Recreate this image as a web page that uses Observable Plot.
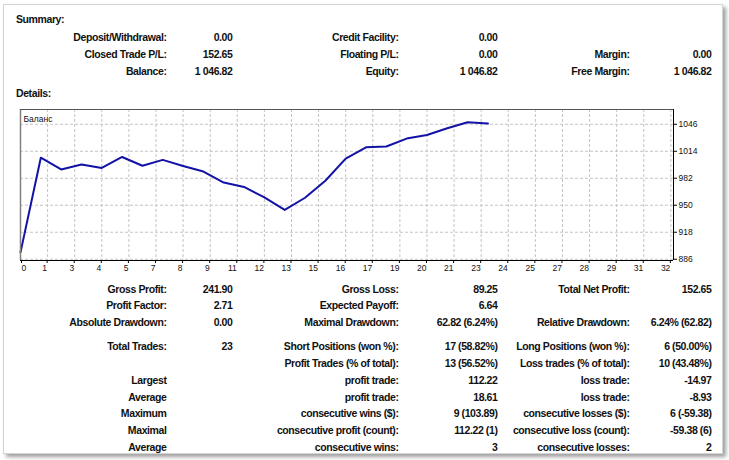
<!DOCTYPE html>
<html>
<head>
<meta charset="utf-8">
<script src="https://cdn.jsdelivr.net/npm/d3@7"></script>
<script src="https://cdn.jsdelivr.net/npm/@observablehq/plot@0.6"></script>
<style>
  html, body { margin: 0; padding: 0; background: #ffffff; }
  body { width: 729px; height: 460px; position: relative; overflow: hidden; }
  #panel { position: absolute; left: 3px; top: 4px; width: 718px; height: 448px;
           background: #fff; border: 1px solid #d4d4d4;
           box-shadow: 3px 3px 4px rgba(0,0,0,0.38); }
  .t { position: absolute; white-space: nowrap; font-family: "Liberation Sans", Arial, sans-serif;
       font-weight: bold; font-size: 10.5px; letter-spacing: -0.4px; line-height: 12px; color: #111; }
  #chart { position: absolute; left: 0; top: 100px; }
</style>
</head>
<body>
<div id="panel"></div>
<div id="texts"></div>
<div id="chart"></div>
<script>
// ---------- data ----------
const balance = [894.17, 1006.39, 992.42, 998.22, 994.22, 1007.22, 996.79, 1003.78, 996.60, 989.90,
                 976.90, 971.70, 959.37, 944.40, 958.90, 979.00, 1005.30, 1018.70, 1019.60, 1029.00,
                 1033.30, 1041.20, 1048.29, 1046.82];
const xTickLabels = [0, 1, 3, 4, 5, 7, 8, 9, 11, 12, 13, 15, 16, 17, 19, 20, 21, 23, 24, 25, 27, 28, 29, 31, 32];
const yTickLabels = [886, 918, 950, 982, 1014, 1046];
const seriesName = "Баланс";

const summaryRows = [
  ["Deposit/Withdrawal:", "0.00", "Credit Facility:", "0.00", "", ""],
  ["Closed Trade P/L:", "152.65", "Floating P/L:", "0.00", "Margin:", "0.00"],
  ["Balance:", "1 046.82", "Equity:", "1 046.82", "Free Margin:", "1 046.82"]
];
const detailsRows = [
  ["Gross Profit:", "241.90", "Gross Loss:", "89.25", "Total Net Profit:", "152.65"],
  ["Profit Factor:", "2.71", "Expected Payoff:", "6.64", "", ""],
  ["Absolute Drawdown:", "0.00", "Maximal Drawdown:", "62.82 (6.24%)", "Relative Drawdown:", "6.24% (62.82)"],
  ["Total Trades:", "23", "Short Positions (won %):", "17 (58.82%)", "Long Positions (won %):", "6 (50.00%)"],
  ["", "", "Profit Trades (% of total):", "13 (56.52%)", "Loss trades (% of total):", "10 (43.48%)"],
  ["Largest", "", "profit trade:", "112.22", "loss trade:", "-14.97"],
  ["Average", "", "profit trade:", "18.61", "loss trade:", "-8.93"],
  ["Maximum", "", "consecutive wins ($):", "9 (103.89)", "consecutive losses ($):", "6 (-59.38)"],
  ["Maximal", "", "consecutive profit (count):", "112.22 (1)", "consecutive loss (count):", "-59.38 (6)"],
  ["Average", "", "consecutive wins:", "3", "consecutive losses:", "2"]
];

// ---------- layout ----------
const colRight = [166, 232, 398, 497, 629, 711];
const summaryY = [37, 53.5, 70.5];
const detailsY = [289, 305, 322, 346, 363, 380, 397, 413, 430, 447];
const W = 729;

const texts = document.getElementById("texts");
function addText(str, opts) {
  if (!str) return;
  const d = document.createElement("div");
  d.className = "t";
  d.textContent = str;
  d.style.top = (opts.y - 6) + "px";
  if (opts.left != null) d.style.left = opts.left + "px";
  else d.style.right = (W - opts.right - 0.5) + "px";
  texts.appendChild(d);
}
addText("Summary:", {left: 16, y: 19});
addText("Details:", {left: 16, y: 93});
summaryRows.forEach((row, r) => row.forEach((s, c) => addText(s, {right: colRight[c], y: summaryY[r]})));
detailsRows.forEach((row, r) => row.forEach((s, c) => addText(s, {right: colRight[c], y: detailsY[r]})));

// ---------- chart ----------
const xMax = 32;
const xTickPos = xTickLabels.map((_, i) => i * xMax / (xTickLabels.length - 1));
const labelAt = new Map(xTickPos.map((p, i) => [p, String(xTickLabels[i])]));
const xDomain = [0, 32.13];
const yDomain = [884.5, 1063.5];
const grid = {stroke: "#c4c4c4", strokeOpacity: 1, strokeDasharray: "3,2"};

const chart = Plot.plot({
  width: 729,
  height: 180,
  marginLeft: 20,
  marginRight: 56,
  marginTop: 9,
  marginBottom: 20,
  x: {domain: xDomain},
  y: {domain: yDomain},
  style: {fontFamily: "Liberation Sans, Arial, sans-serif", fontSize: "8.5px", background: "transparent", color: "#111"},
  marks: [
    Plot.gridY(yTickLabels, grid),
    Plot.gridX(xTickPos.slice(1), grid),
    Plot.line(balance, {x: (d, i) => i, y: d => d, stroke: "#1212a6", strokeWidth: 2}),
    Plot.ruleX([xDomain[0]], {stroke: "#808080", strokeWidth: 1.5}),
    Plot.ruleY([yDomain[1]], {stroke: "#555"}),
    Plot.ruleX([xDomain[1]], {stroke: "#000"}),
    Plot.ruleY([yDomain[0]], {stroke: "#000"}),
    Plot.axisX(xTickPos.slice(0, 1), {tickSize: 3, tickPadding: 1, tickFormat: d => labelAt.get(d), textAnchor: "start", dx: 1, stroke: "#000"}),
    Plot.axisX(xTickPos.slice(1), {tickSize: 3, tickPadding: 1, tickFormat: d => labelAt.get(d), textAnchor: "end", dx: -0.5, stroke: "#000"}),
    Plot.axisY(yTickLabels, {anchor: "right", tickSize: 3, tickPadding: 2, tickFormat: d => String(d), stroke: "#000"}),
    Plot.text([seriesName], {frameAnchor: "top-left", dx: 3, dy: 6, text: d => d, fontSize: 8.5})
  ]
});
document.getElementById("chart").appendChild(chart);
</script>
</body>
</html>
